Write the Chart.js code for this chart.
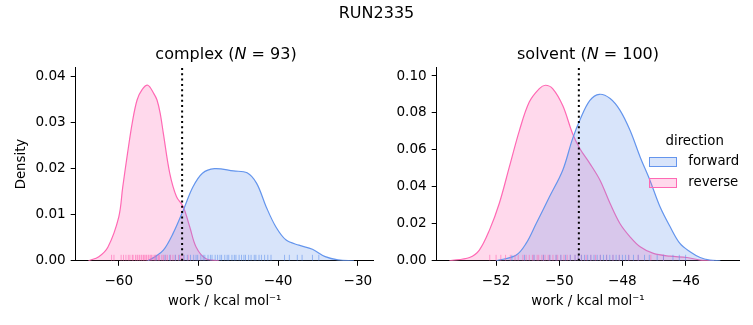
<!DOCTYPE html>
<html>
<head>
<meta charset="utf-8">
<script src="https://cdn.jsdelivr.net/npm/chart.js@4.4.1/dist/chart.umd.min.js"></script>
<style>
  html, body { margin:0; padding:0; background:#fff; }
  #fig { position:relative; width:753px; height:325px; overflow:hidden; font-family:'DejaVu Sans', sans-serif; color:#000; }
  canvas { position:absolute; top:0; }
  .t { position:absolute; white-space:nowrap; }
  .ctr { transform:translateX(-50%); }
  .big { font-size:16px; line-height:20px; }
  .med { font-size:13.3px; line-height:16px; }
  .sw { position:absolute; width:25.4px; height:8px; border:1px solid; }
</style>
</head>
<body>
<div id="fig">
  <canvas id="cplx" width="380" height="325" style="left:0"></canvas>
  <canvas id="solv" width="373" height="325" style="left:380px"></canvas>
  <div class="t ctr big" style="left:376.5px; top:3.2px">RUN2335</div>
  <div class="t ctr big" style="left:226px; top:43.5px">complex (<i>N</i> = 93)</div>
  <div class="t ctr big" style="left:588px; top:43.5px">solvent (<i>N</i> = 100)</div>
  <div id="legend"></div>
</div>
<script>
// kde curves (work in kcal/mol, density)
const complexRevX = [-63.8, -62.5, -61.35, -60.0, -59.5, -58.9, -58.3, -57.7, -57.05, -56.35, -55.6, -55.2, -54.8, -54.4, -53.6, -52.75, -51.9, -51.1, -50.3, -49.1, -47.4];
const complexRevY = [0, 0.0009, 0.0030, 0.0095, 0.0160, 0.0233, 0.0300, 0.0349, 0.0372, 0.0381, 0.0363, 0.0349, 0.0320, 0.0276, 0.0190, 0.0139, 0.0117, 0.0074, 0.0030, 0.0005, 0];
const complexFwdX = [-56.4, -55.5, -54.4, -53.2, -51.9, -50.7, -49.5, -48.0, -45.6, -43.9, -42.7, -41.5, -40.3, -39.0, -37.4, -35.7, -34.1, -32.5, -30.5];
const complexFwdY = [0, 0.0008, 0.0023, 0.0059, 0.0110, 0.0160, 0.0190, 0.0200, 0.0195, 0.0191, 0.0168, 0.0117, 0.0074, 0.0045, 0.0034, 0.0025, 0.0009, 0.0002, 0];

const solventRevX = [-53.48, -52.84, -52.53, -52.21, -51.9, -51.58, -51.26, -50.95, -50.63, -50.44, -50.21, -49.89, -49.58, -49.34, -49.03, -48.71, -48.39, -48.08, -47.76, -47.44, -47.02, -46.49, -45.96, -45.54, -45.1];
const solventRevY = [0, 0.0018, 0.0058, 0.0166, 0.0310, 0.0508, 0.0706, 0.0859, 0.0932, 0.0950, 0.0932, 0.0840, 0.0689, 0.0605, 0.0526, 0.0436, 0.0310, 0.0202, 0.0130, 0.0076, 0.0040, 0.0025, 0.0018, 0.0004, 0];
const solventFwdX = [-52.0, -51.37, -51.05, -50.73, -50.31, -49.89, -49.58, -49.34, -49.03, -48.73, -48.39, -48.08, -47.76, -47.44, -47.13, -46.81, -46.49, -46.18, -45.86, -45.54, -45.23, -44.9];
const solventFwdY = [0, 0.0030, 0.0094, 0.0202, 0.0346, 0.0490, 0.0660, 0.0765, 0.0868, 0.0901, 0.0878, 0.0815, 0.0706, 0.0562, 0.0436, 0.0292, 0.0184, 0.0094, 0.0049, 0.0018, 0.0004, 0];

// rug marks
const complexRevRug = [-60.9, -60.6, -59.7, -59.4, -59.1, -58.8, -58.6, -58.3, -58.2, -57.9, -57.7, -57.6, -57.4, -57.2, -57.1, -56.9, -56.8, -56.6, -56.5, -56.3, -56.2, -56.0, -55.9, -55.7, -55.5, -55.4, -55.2, -55.0, -54.9, -54.6, -54.4, -54.1, -53.9, -53.5, -53.2, -52.9, -52.5, -52.2, -51.9, -51.3];
const complexFwdRug = [-55.3, -54.2, -53.6, -52.9, -52.4, -51.8, -51.4, -51.0, -50.6, -50.3, -50.1, -49.7, -49.4, -49.2, -48.8, -48.5, -48.3, -47.9, -47.6, -47.3, -47.1, -46.7, -46.4, -46.2, -45.8, -45.5, -45.3, -44.9, -44.6, -44.3, -44.1, -43.7, -43.4, -43.0, -42.8, -42.4, -42.1, -41.7, -41.3, -40.9, -39.2, -38.6, -37.6, -37.0, -35.7, -34.9];
const solventRevRug = [-52.2, -52.0, -51.85, -51.7, -51.55, -51.4, -51.3, -51.15, -51.05, -50.95, -50.85, -50.8, -50.7, -50.65, -50.55, -50.5, -50.45, -50.35, -50.3, -50.2, -50.1, -50.05, -49.95, -49.85, -49.75, -49.65, -49.5, -49.4, -49.3, -49.15, -49.0, -48.85, -48.7, -48.5, -48.3, -48.1, -47.8, -47.5, -47.1, -46.7];
const solventFwdRug = [-51.5, -51.1, -50.8, -50.5, -50.3, -50.1, -49.95, -49.8, -49.65, -49.5, -49.4, -49.3, -49.2, -49.1, -49.0, -48.9, -48.8, -48.7, -48.6, -48.5, -48.4, -48.3, -48.2, -48.1, -48.0, -47.9, -47.8, -47.65, -47.5, -47.3, -47.15, -46.9, -46.7, -46.4, -46.2, -46.0];

// dotted vertical lines
const complexMarker = -52.05;
const solventMarker = -49.38;

const complexXTicks = [-60, -50, -40, -30];
const complexYTicks = [0, 0.01, 0.02, 0.03, 0.04];
const solventXTicks = [-52, -50, -48, -46];
const solventYTicks = [0, 0.02, 0.04, 0.06, 0.08, 0.10];

const directions = ['forward', 'reverse'];
const lineColors = { forward: 'rgb(100,149,237)', reverse: 'rgb(255,105,180)' };
const fillColors = { forward: 'rgba(100,149,237,0.25)', reverse: 'rgba(255,105,180,0.25)' };
const rugColors  = { forward: 'rgba(100,149,237,0.6)', reverse: 'rgba(255,105,180,0.6)' };

Chart.defaults.font.family = "'DejaVu Sans', sans-serif";
Chart.defaults.color = '#000';

const pts = (xs, ys) => xs.map((x, i) => ({ x: x, y: ys[i] }));
const minus = v => (v < 0 ? '\u2212' + Math.abs(v) : String(v));

function panel(id, p) {
  const rugY = p.yMax * 0.0155;
  const datasets = [];
  datasets.push({
    type: 'line', data: [{ x: p.marker, y: 0 }, { x: p.marker, y: p.yMax }],
    borderColor: '#000', borderWidth: 2, borderDash: [2, 3.3], pointRadius: 0, fill: false, order: 0
  });
  directions.forEach((d, i) => {
    datasets.push({
      type: 'scatter', data: p.rug[d].map(v => ({ x: v, y: rugY })),
      pointStyle: 'line', rotation: 90, radius: 3, borderWidth: 1,
      borderColor: rugColors[d], backgroundColor: rugColors[d], order: 1
    });
    datasets.push({
      type: 'line', label: d, data: p.kde[d],
      borderColor: lineColors[d], backgroundColor: fillColors[d], borderWidth: 1.2,
      fill: 'origin', pointRadius: 0, tension: 0.35, order: 2 + i
    });
  });

  new Chart(document.getElementById(id), {
    type: 'line',
    data: { datasets: datasets },
    options: {
      responsive: false, animation: false, events: [],
      layout: { padding: { top: 67.3, right: p.padRight, bottom: 0, left: 0 } },
      plugins: { legend: { display: false }, title: { display: false }, tooltip: { enabled: false } },
      scales: {
        x: {
          type: 'linear', min: p.xMin, max: p.xMax,
          afterBuildTicks: s => { s.ticks = p.xTicks.map(v => ({ value: v })); },
          afterFit: s => { s.height = 64.2; },
          grid: { display: true, drawOnChartArea: false, drawTicks: true, tickLength: 5, tickWidth: 1, tickColor: '#000' },
          border: { display: true, color: '#000', width: 1 },
          ticks: { color: '#000', font: { size: 13.6 }, padding: 7.5, maxRotation: 0, autoSkip: false, callback: v => minus(v) },
          title: { display: true, text: 'work / kcal mol\u207B\u00B9', color: '#000', font: { size: 13.3 }, padding: { top: 0, bottom: 15 } }
        },
        y: {
          type: 'linear', min: 0, max: p.yMax,
          afterBuildTicks: s => { s.ticks = p.yTicks.map(v => ({ value: v })); },
          afterFit: s => { s.width = p.yWidth; },
          grid: { display: true, drawOnChartArea: false, drawTicks: true, tickLength: 5, tickWidth: 1, tickColor: '#000' },
          border: { display: true, color: '#000', width: 1 },
          ticks: { color: '#000', font: { size: 13.6 }, padding: 5, autoSkip: false, callback: v => v.toFixed(2) },
          title: { display: !!p.yTitle, text: p.yTitle || '', color: '#000', font: { size: 13.3 }, padding: { top: 14, bottom: 0 } }
        }
      }
    }
  });
}

panel('cplx', {
  kde: { forward: pts(complexFwdX, complexFwdY), reverse: pts(complexRevX, complexRevY) },
  rug: { forward: complexFwdRug, reverse: complexRevRug },
  marker: complexMarker, xTicks: complexXTicks, yTicks: complexYTicks,
  xMin: -65.4, xMax: -28.0, yMax: 0.0420, yWidth: 75.7, padRight: 1.7, yTitle: 'Density'
});
panel('solv', {
  kde: { forward: pts(solventFwdX, solventFwdY), reverse: pts(solventRevX, solventRevY) },
  rug: { forward: solventFwdRug, reverse: solventRevRug },
  marker: solventMarker, xTicks: solventXTicks, yTicks: solventYTicks,
  xMin: -53.88, xMax: -44.3, yMax: 0.1047, yWidth: 56.7, padRight: 13.7, yTitle: null
});

// legend (drawn as html text over the right panel)
const legend = document.getElementById('legend');
let html = '<div class="t ctr med" style="left:694.7px; top:133.4px">direction</div>';
directions.forEach((d, i) => {
  const top = [157.3, 178.3][i];
  html += '<div class="sw" style="left:649.3px; top:' + top + 'px; border-color:' + lineColors[d] + '; background:' + fillColors[d] + '"></div>';
  html += '<div class="t med" style="left:688.3px; top:' + (top - 3.9) + 'px">' + d + '</div>';
});
legend.innerHTML = html;
</script>
</body>
</html>
